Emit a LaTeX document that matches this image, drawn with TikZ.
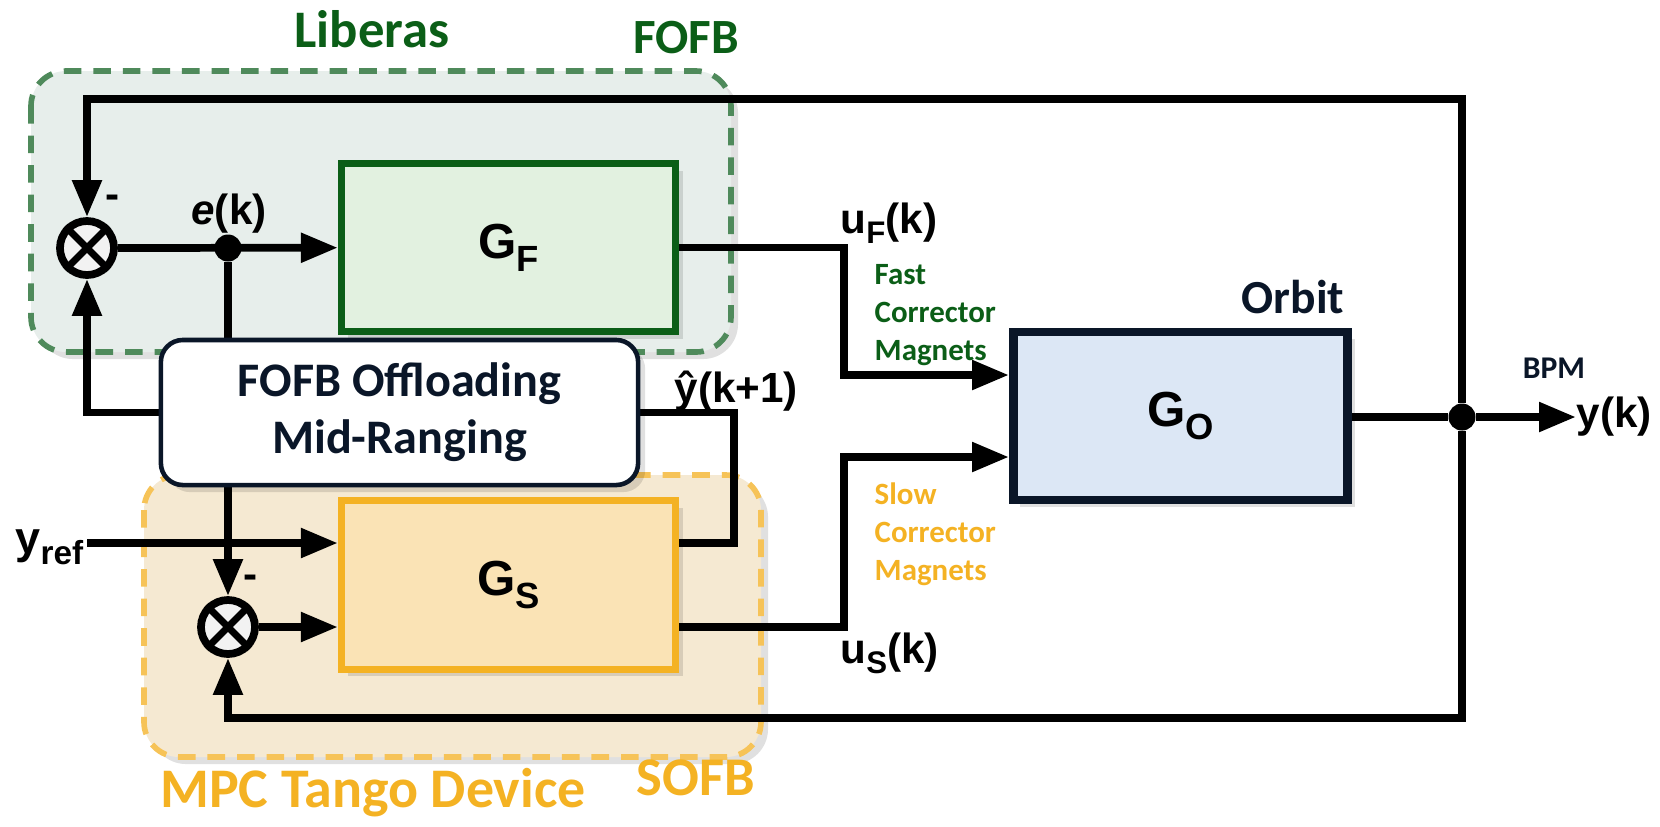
\documentclass[tikz,border=0pt]{standalone}
\usepackage{fontspec}
\usepackage{graphicx}
\setmainfont{Liberation Sans}
\newfontfamily\calibfont{Carlito}
\usetikzlibrary{arrows.meta,shapes.geometric,shadows}
\pgfdeclarelayer{regions}
\pgfdeclarelayer{wires}
\pgfsetlayers{regions,wires,main}

\definecolor{fgreen}{HTML}{0B5E17}
\definecolor{gregion}{HTML}{4F8A5B}
\definecolor{gregionfill}{HTML}{E7EEEB}
\definecolor{gfill}{HTML}{E2F1E0}
\definecolor{sorange}{HTML}{F4B223}
\definecolor{oregion}{HTML}{F6C358}
\definecolor{oregionfill}{HTML}{F5E9D2}
\definecolor{sfill}{HTML}{FAE3B5}
\definecolor{navy}{HTML}{0A1628}
\definecolor{ofill}{HTML}{DCE7F5}

% lowered, reduced subscript used in the signal and block names
\newcommand\lowsub[2][0.26em]{\raisebox{-#1}{\scalebox{0.74}{#2}}}

\begin{document}
\begin{tikzpicture}[x=0.01cm,y=-0.01cm,
  sig/.style={line width=2.2pt, line join=miter},
  arr/.style={sig, -{Triangle[length=10.5pt,width=8pt]}},
  softshadow/.style={drop shadow={shadow xshift=2pt, shadow yshift=-2pt, fill=black, opacity=0.12}},
  blk/.style={draw, rectangle, line width=2pt, inner sep=0pt,
    minimum width=3.34cm, minimum height=1.68cm,
    font=\bfseries\fontsize{14}{14}\selectfont, softshadow},
  region/.style={line width=1.6pt, dash pattern=on 5pt off 3.4pt, rounded corners=0.35cm},
  sumj/.style={circle, draw, line width=2.2pt, fill=gray!10, inner sep=0pt,
    minimum size=0.54cm},
  dot/.style={circle, fill=black, inner sep=0pt, minimum size=0.27cm},
  lbl/.style={font=\bfseries\fontsize{12}{12}\selectfont, inner sep=0pt},
  cal/.style={font=\calibfont\bfseries #1, inner sep=0pt},
]
\useasboundingbox (0,0) rectangle (1660,826);

% dashed regions for the two controllers
\begin{pgfonlayer}{regions}
  \path[region, draw=gregion, fill=gregionfill, softshadow] (31,71) rectangle (731,352);
  \path[region, draw=oregion, fill=oregionfill, softshadow] (144,475) rectangle (761,757);
\end{pgfonlayer}

% blocks
\node[blk, draw=fgreen, fill=gfill] (GF) at (508.5,247.5) {G\lowsub{F}};
\node[blk, draw=sorange, fill=sfill] (GS) at (508.5,585) {G\lowsub{S}};
\node[blk, draw=navy, fill=ofill, line width=2.5pt] (GO) at (1180.5,416) {G\lowsub{O}};
\node[draw=navy, fill=white, line width=1.3pt, rounded corners=0.22cm,
      minimum width=4.77cm, minimum height=1.45cm, inner sep=0pt, align=center,
      text=navy, font=\calibfont\bfseries\fontsize{13.7}{16.2}\selectfont, softshadow]
      (off) at (399.5,412.5) {FOFB Offloading\\Mid-Ranging};

% summing junctions and branch points
\node[sumj] (sum1) at (87,248) {};
\draw[line width=2pt] (sum1.45) -- (sum1.225) (sum1.135) -- (sum1.315);
\node[sumj] (sum2) at (228,627) {};
\draw[line width=2pt] (sum2.45) -- (sum2.225) (sum2.135) -- (sum2.315);
\node[dot] (ek) at (228,248) {};
\node[dot] (bpm) at (1462,417) {};

% signal labels
\node[lbl, anchor=base] (elbl) at (229,224) {\textit{e}(k)};
\node[lbl] (m1) at (113,202) {-};
\node[lbl] (m2) at (251,582) {-};
\node[lbl, anchor=base west] (uf) at (840,233) {u\lowsub{F}(k)};
\node[lbl, anchor=base west] (us) at (840,663) {u\lowsub{S}(k)};
\node[lbl, anchor=base west] (yhat) at (674,402) {ŷ(k+1)};
\node[lbl, anchor=base west, font=\bfseries\fontsize{12.8}{12.8}\selectfont] (yref) at (15,553) {y\lowsub{ref}};
\node[lbl, anchor=west] (yk) at (1576,417) {y(k)};

% names of the parts
\node[cal=\fontsize{15}{15}\selectfont, text=fgreen, anchor=base] at (372,47) {Liberas};
\node[cal=\fontsize{14}{14}\selectfont, text=fgreen, anchor=base] at (686,53) {FOFB};
\node[cal=\fontsize{15.9}{15.9}\selectfont, text=sorange, anchor=base] at (373,807) {MPC Tango Device};
\node[cal=\fontsize{15.5}{15.5}\selectfont, text=sorange, anchor=base] at (696,795) {SOFB};
\node[cal=\fontsize{13.5}{13.5}\selectfont, text=navy, anchor=base] at (1293,313) {Orbit};
\node[cal=\fontsize{9}{9}\selectfont, text=navy, anchor=base] at (1554,378) {BPM};
\node[cal=\fontsize{8.8}{10.8}\selectfont, text=fgreen, anchor=north west, align=left] at (874,264) {Fast\\Corrector\\Magnets};
\node[cal=\fontsize{8.8}{10.8}\selectfont, text=sorange, anchor=north west, align=left] at (874,482) {Slow\\Corrector\\Magnets};

% bend points of the wiring
\coordinate (tl) at (87,99);
\coordinate (bl) at (228,718);
\coordinate (fx) at (844,375);
\coordinate (sx) at (844,457);
\coordinate (yrefpt) at (87,543);
\coordinate (yhatb) at (734,543);

\begin{pgfonlayer}{wires}
  \draw[arr] (sum1) -- (GF);
  \draw[arr] (ek) -- (sum2.north);
  \draw[arr] (sum2) -- (GS.west |- sum2);
  \draw[arr] (yrefpt) -- (GS.west |- yrefpt);
  \draw[sig] (off.east) -| (yhatb) -- (GS.east |- yhatb);
  \draw[arr] (off.west) -| (sum1.south);
  \draw[arr] (GF.east) -| (fx) -- (GO.west |- fx);
  \draw[arr] (GS.east |- sum2) -| (sx) -- (GO.west |- sx);
  \draw[sig] (GO.east |- bpm) -- (bpm);
  \draw[arr] (bpm) -- (yk.west);
  \draw[arr] (bpm) |- (tl) -- (sum1.north);
  \draw[arr] (bpm) |- (bl) -- (sum2.south);
\end{pgfonlayer}
\end{tikzpicture}
\end{document}
